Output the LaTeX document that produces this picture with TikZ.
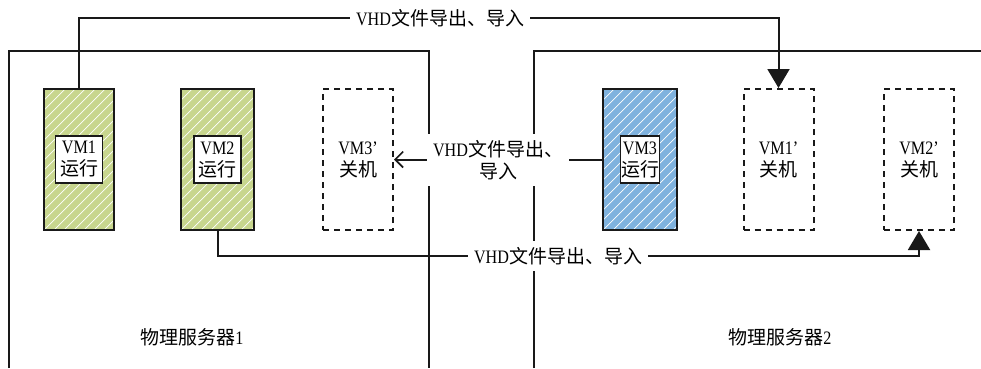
\documentclass[tikz,border=0pt]{standalone}
\usepackage{fontspec}
\setmainfont{Liberation Serif}[FakeStretch=0.85]
\newfontfamily\cjk{Noto Sans CJK SC}
\usetikzlibrary{arrows.meta}
\definecolor{vmgreen}{HTML}{C8D68E}
\definecolor{vmblue}{HTML}{7FB2DE}
\tikzset{
  line/.style={line width=2pt, draw=black!90},
  server/.style={line},
  hatch/.style={path picture={
      \foreach \i in {-160,-150,...,80}
        \draw[white, line width=0.7pt]
          ([xshift=\i pt]path picture bounding box.south west) -- ++(170pt,170pt);}},
  vmrun/.style={line, rectangle, minimum height=141pt, inner sep=0pt, hatch},
  vmoff/.style={line, dashed, dash pattern=on 6pt off 5pt, rectangle,
    minimum height=141pt, minimum width=70pt, inner sep=0pt, align=center,
    font=\fontsize{19}{22}\selectfont},
  tag/.style={line width=1.6pt, draw=black!90, fill=white, rectangle,
    minimum width=47pt, minimum height=47pt, inner sep=0pt, align=center,
    font=\fontsize{19}{22}\selectfont},
  flowlbl/.style={fill=white, inner sep=6pt, align=center,
    font=\fontsize{19}{22}\selectfont},
  srvlbl/.style={font=\fontsize{19}{22}\selectfont},
  flow/.style={line},
  bigtip/.style={-{Triangle[width=22pt,length=19pt]}},
  opentip/.style={-{Straight Barb[width=16pt,length=8pt,line width=1.6pt]}}
}
\begin{document}
\begin{tikzpicture}[x=1pt, y=-1pt]
  \useasboundingbox[fill=white] (0,0) rectangle (981,368);

  % physical servers (open at the bottom / right)
  \draw[server] (9,368) -- (9,51) -- (429,51) -- (429,368);
  \draw[server] (534,368) -- (534,51) -- (981,51);

  % server 1 virtual machines
  \node[vmrun, fill=vmgreen, minimum width=70pt] (vm1) at (79,159.5) {};
  \node[tag] (vm1tag) at (vm1.center) {VM1\\{\cjk 运行}};
  \node[vmrun, fill=vmgreen, minimum width=73pt] (vm2) at (217.5,159.5) {};
  \node[tag] (vm2tag) at (vm2.center) {VM2\\{\cjk 运行}};
  \node[vmoff] (vm3p) at (358,159.5) {VM3\textquoteright\\{\cjk 关机}};

  % server 2 virtual machines
  \node[vmrun, fill=vmblue, minimum width=74pt] (vm3) at (640,159.5) {};
  \node[tag, minimum width=39pt] (vm3tag) at (vm3.center) {VM3\\{\cjk 运行}};
  \node[vmoff] (vm1p) at (778.5,159.5) {VM1\textquoteright\\{\cjk 关机}};
  \node[vmoff] (vm2p) at (919,159.5) {VM2\textquoteright\\{\cjk 关机}};

  % server captions
  \node[srvlbl] (s1) at (192,337) {{\cjk 物理服务器}1};
  \node[srvlbl] (s2) at (780,337) {{\cjk 物理服务器}2};

  % migration labels
  \node[flowlbl] (toplbl) at (440,18) {VHD{\cjk 文件导出、导入}};
  \node[flowlbl] (midlbl) at (498,160) {VHD{\cjk 文件导出、}\\{\cjk 导入}};
  \node[flowlbl] (botlbl) at (558,256) {VHD{\cjk 文件导出、导入}};

  % VM1 -> VM1'
  \draw[flow] (vm1.north) |- (toplbl.west);
  \draw[flow, bigtip] (toplbl.east) -| (vm1p.north);

  % VM3 -> VM3'
  \draw[flow] (vm3.west) -- (vm3.west -| midlbl.east);
  \draw[flow, opentip] (vm3p.east -| midlbl.west) -- (vm3p.east);

  % VM2 -> VM2'
  \draw[flow] (vm2.south) |- (botlbl.west);
  \draw[flow, bigtip] (botlbl.east) -| (vm2p.south);
\end{tikzpicture}
\end{document}
